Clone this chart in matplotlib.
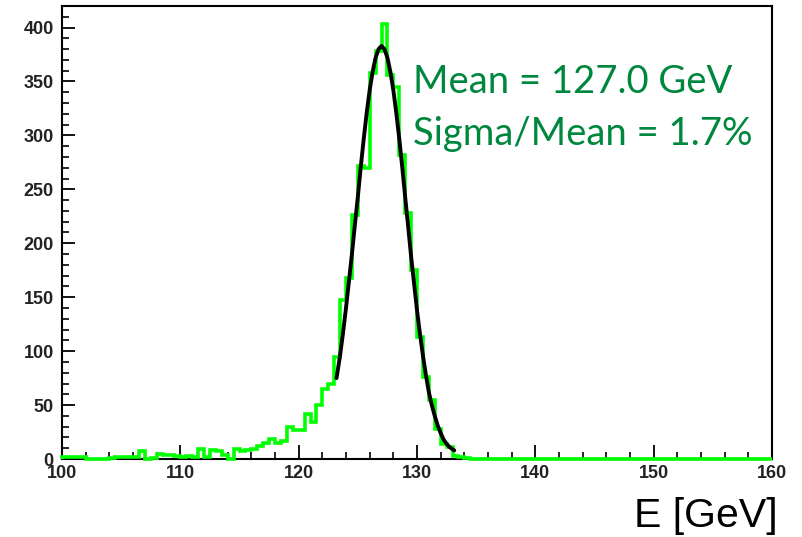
import numpy as np
import matplotlib
matplotlib.use("Agg")
import matplotlib.pyplot as plt
from matplotlib.ticker import MultipleLocator

# ---- data ----
bin_start = 100.0
bin_width = 0.5
counts = [
    2, 2, 2, 2, 0, 0, 0, 0, 1, 2,          # 100.0 - 104.5
    2, 2, 2, 7, 0, 1, 5, 4, 4, 3,          # 105.0 - 109.5
    2, 3, 2, 9, 2, 8, 7, 4, 0, 9,          # 110.0 - 114.5
    7, 8, 9, 12, 15, 19, 15, 17, 30, 27,   # 115.0 - 119.5
    27, 42, 34, 50, 65, 70, 95, 147, 168, 226,   # 120.0 - 124.5
    272, 270, 358, 378, 403, 356, 345, 282, 228, 175,  # 125.0 - 129.5
    113, 76, 55, 28, 14, 11, 3, 2, 1, 0,   # 130.0 - 134.5
] + [0] * 50                               # 135.0 - 159.5

fit_x = [123.2, 123.5, 123.75, 124.0, 124.25, 124.5, 124.75, 125.0, 125.25,
         125.5, 125.75, 126.0, 126.25, 126.5, 126.75, 127.0, 127.25, 127.5,
         127.75, 128.0, 128.25, 128.5, 128.75, 129.0, 129.25, 129.5, 129.75,
         130.0, 130.25, 130.5, 130.75, 131.0, 131.25, 131.5, 131.75, 132.0,
         132.25, 132.5, 132.75, 133.0, 133.15]
fit_y = [75, 96, 117, 140, 165, 190, 217, 243, 271,
         297, 321, 342, 359, 372, 380, 383, 380, 372,
         359, 342, 321, 297, 271, 243, 216, 188, 163,
         138, 116, 96, 78, 62, 50, 40, 31, 24,
         18, 14, 11, 9, 8]

mean_text = "Mean = 127.0 GeV"
reso_text = "Sigma/Mean = 1.7%"
x_label = "E [GeV]"
x_limits = (100, 160)
y_limits = (0, 420)

# ---- figure ----
W, H = 802, 537
fig = plt.figure(figsize=(W / 100, H / 100), dpi=100)
ax_l, ax_r, ax_t, ax_b = 62, 772, 6, 459
ax = fig.add_axes([ax_l / W, 1 - ax_b / H, (ax_r - ax_l) / W, (ax_b - ax_t) / H])

edges = bin_start + bin_width * np.arange(len(counts) + 1)
ax.stairs(counts, edges, color="#00ff00", lw=2.6, baseline=0,
          clip_on=False, zorder=3)
ax.plot(fit_x, fit_y, color="black", lw=2.8, zorder=4,
        solid_joinstyle="round", solid_capstyle="round")

ax.set_xlim(*x_limits)
ax.set_ylim(*y_limits)

ax.xaxis.set_major_locator(MultipleLocator(10))
ax.xaxis.set_minor_locator(MultipleLocator(2))
ax.yaxis.set_major_locator(MultipleLocator(50))
ax.yaxis.set_minor_locator(MultipleLocator(10))

ax.tick_params(axis="x", which="major", direction="in", length=10, width=1.3,
               pad=4.5, top=False)
ax.tick_params(axis="x", which="minor", direction="in", length=5, width=1.2,
               top=False)
ax.tick_params(axis="y", which="major", direction="in", length=9, width=1.3,
               pad=6, right=False)
ax.tick_params(axis="y", which="minor", direction="in", length=5, width=1.2,
               right=False)

for lab in ax.get_xticklabels() + ax.get_yticklabels():
    lab.set_fontfamily("Liberation Sans")
    lab.set_fontweight("bold")
    lab.set_fontsize(13)
    lab.set_color("#222222")

for sp in ax.spines.values():
    sp.set_linewidth(1.5)
    sp.set_color("black")

green_txt = "#00873e"
fig.text(413 / W, 1 - 93 / H, mean_text, fontsize=27.5, color=green_txt,
         family="Lato", ha="left", va="baseline")
fig.text(413 / W, 1 - 145 / H, reso_text, fontsize=27.5, color=green_txt,
         family="Lato", ha="left", va="baseline")

fig.text(778 / W, 1 - 527 / H, x_label, fontsize=29.5, color="black",
         family="Liberation Sans", ha="right", va="baseline")

fig.savefig("out.png", dpi=100)
